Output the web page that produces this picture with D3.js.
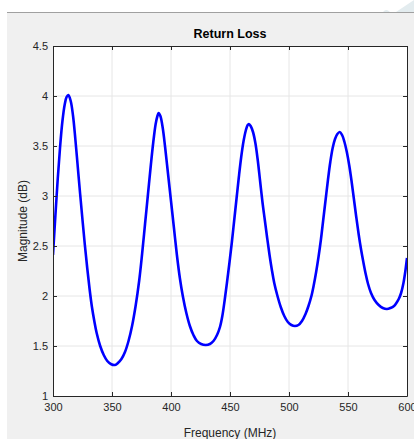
<!DOCTYPE html>
<meta charset="UTF-8">
<head>
  <script src="https://d3js.org/d3.v7.min.js"></script>
  <style>
    body { margin: 0; background: #fff; }
    text { font-family: "Liberation Sans", Arial, sans-serif; }
  </style>
</head>
<body>
  <svg id="svg" width="414" height="439"></svg>
  <script>
    // values
    const freq = [300, 302, 304, 306, 308, 310, 311.5, 313, 315, 317, 319, 321, 323, 325, 327, 329, 331, 333, 335, 337,
      340, 343, 346, 349, 352.5, 355, 358, 361, 364, 367, 370, 373, 375.5, 378, 380.5, 383, 385, 387, 388.5, 389.5,
      391, 393, 395, 397.5, 400, 402.5, 405, 407.5, 410, 413, 416, 419, 422, 425.5, 429.5, 433, 436, 439, 441.5, 443.5,
      445.5, 447.5, 449.5, 451.5, 453.5, 455.5, 457.5, 459.5, 461.5, 463.5, 465, 466, 467.5, 469.5, 471.5, 473.5, 475.5, 477.5, 479.5, 481.5,
      483.5, 485.5, 487.5, 490, 493, 496, 499, 502, 505, 508, 511, 514, 516.5, 519, 521, 523, 525, 527, 529, 531,
      533, 535, 537, 539, 541, 543, 545, 547, 549, 551, 553, 555, 557, 559, 561, 563, 565, 567, 569.5, 572.5,
      576, 579.5, 583, 586, 589, 591, 593, 595, 597, 598.5, 600];
    const mag = [2.41, 2.80, 3.17, 3.49, 3.75, 3.92, 3.99, 4.01, 3.95, 3.80, 3.56, 3.29, 3.02, 2.76, 2.51, 2.28, 2.07, 1.89, 1.75, 1.63,
      1.50, 1.41, 1.35, 1.32, 1.31, 1.33, 1.37, 1.44, 1.55, 1.70, 1.90, 2.15, 2.42, 2.72, 3.02, 3.32, 3.54, 3.72, 3.80, 3.83,
      3.80, 3.68, 3.49, 3.22, 2.95, 2.68, 2.41, 2.18, 2.00, 1.83, 1.70, 1.61, 1.55, 1.52, 1.51, 1.52, 1.55, 1.61, 1.69, 1.80,
      1.96, 2.14, 2.33, 2.53, 2.75, 2.97, 3.19, 3.39, 3.55, 3.66, 3.71, 3.72, 3.70, 3.64, 3.53, 3.36, 3.15, 2.94, 2.76, 2.58,
      2.41, 2.26, 2.13, 2.01, 1.89, 1.80, 1.74, 1.71, 1.70, 1.71, 1.75, 1.82, 1.90, 2.00, 2.11, 2.24, 2.39, 2.56, 2.76, 2.96,
      3.16, 3.34, 3.48, 3.57, 3.62, 3.64, 3.61, 3.54, 3.44, 3.31, 3.15, 2.97, 2.79, 2.62, 2.47, 2.34, 2.22, 2.12, 2.03, 1.96,
      1.91, 1.88, 1.87, 1.88, 1.90, 1.93, 1.97, 2.03, 2.13, 2.24, 2.38];
    const xTicks = [300, 350, 400, 450, 500, 550, 600];
    const yTicks = [1, 1.5, 2, 2.5, 3, 3.5, 4, 4.5];

    const svg = d3.select("#svg");
    const mLeft = 53, mRight = 407, mTop = 46, mBottom = 396;
    const axisColor = "#262626";

    // figure window background
    svg.append("rect").attr("x", 7).attr("y", 12).attr("width", 407).attr("height", 427).attr("fill", "#f0f0f0");
    svg.append("line").attr("x1", 7).attr("x2", 414).attr("y1", 12.5).attr("y2", 12.5)
      .attr("stroke", "#a0a0a0").attr("stroke-width", 1);
    // faint watermark bits at the top
    svg.append("path").attr("d", "M396,12 L414,0 L414,12 Z").attr("fill", "#e3ecef");
    svg.append("path").attr("d", "M383,12 Q386,8 390,12 Z").attr("fill", "#e3ecef");

    const x = d3.scaleLinear().domain([300, 600]).range([mLeft, mRight]);
    const y = d3.scaleLinear().domain([1, 4.5]).range([mBottom, mTop]);

    svg.append("rect").attr("x", mLeft).attr("y", mTop).attr("width", mRight - mLeft).attr("height", mBottom - mTop)
      .attr("fill", "#fff");

    // grid
    svg.append("g").selectAll("line").data(xTicks.slice(1, -1)).join("line")
      .attr("x1", d => x(d)).attr("x2", d => x(d)).attr("y1", mTop).attr("y2", mBottom)
      .attr("stroke", "#e6e6e6").attr("stroke-width", 1);
    svg.append("g").selectAll("line").data(yTicks.slice(1, -1)).join("line")
      .attr("y1", d => y(d)).attr("y2", d => y(d)).attr("x1", mLeft).attr("x2", mRight)
      .attr("stroke", "#e6e6e6").attr("stroke-width", 1);

    // curve
    const pts = freq.map((f, i) => [f, mag[i]]);
    svg.append("defs").append("clipPath").attr("id", "clip")
      .append("rect").attr("x", mLeft).attr("y", mTop).attr("width", mRight - mLeft).attr("height", mBottom - mTop);
    svg.append("path").datum(pts)
      .attr("clip-path", "url(#clip)")
      .attr("fill", "none").attr("stroke", "#0000ff").attr("stroke-width", 2.6)
      .attr("stroke-linejoin", "round")
      .attr("d", d3.line().x(d => x(d[0])).y(d => y(d[1])).curve(d3.curveCatmullRom.alpha(0.5)));

    // axes (ticks inward, box)
    const styleAxis = g => {
      g.select(".domain").attr("stroke", axisColor);
      g.selectAll(".tick line").attr("stroke", axisColor);
      g.selectAll(".tick text").attr("fill", axisColor).style("font-size", "11px");
    };
    svg.append("g").attr("transform", `translate(0,${mBottom})`)
      .call(d3.axisBottom(x).tickValues(xTicks).tickSizeInner(-4).tickSizeOuter(0).tickPadding(7))
      .call(styleAxis);
    svg.append("g").attr("transform", `translate(${mLeft},0)`)
      .call(d3.axisLeft(y).tickValues(yTicks).tickFormat(d3.format("")).tickSizeInner(-4).tickSizeOuter(0).tickPadding(5))
      .call(styleAxis);
    svg.append("g").attr("transform", `translate(0,${mTop})`)
      .call(d3.axisTop(x).tickValues(xTicks).tickSizeInner(-4).tickSizeOuter(0).tickFormat(""))
      .call(styleAxis);
    svg.append("g").attr("transform", `translate(${mRight},0)`)
      .call(d3.axisRight(y).tickValues(yTicks).tickSizeInner(-4).tickSizeOuter(0).tickFormat(""))
      .call(styleAxis);

    // labels
    svg.append("text").attr("x", (mLeft + mRight) / 2).attr("y", 38).attr("text-anchor", "middle")
      .style("font-size", "12.5px").style("font-weight", "bold").attr("fill", "#000").text("Return Loss");
    svg.append("text").attr("x", (mLeft + mRight) / 2).attr("y", 437).attr("text-anchor", "middle")
      .style("font-size", "12px").attr("fill", axisColor).text("Frequency (MHz)");
    svg.append("text").attr("transform", `translate(27,${(mTop + mBottom) / 2}) rotate(-90)`).attr("text-anchor", "middle")
      .style("font-size", "12px").attr("fill", axisColor).text("Magnitude (dB)");
  </script>
</body>
